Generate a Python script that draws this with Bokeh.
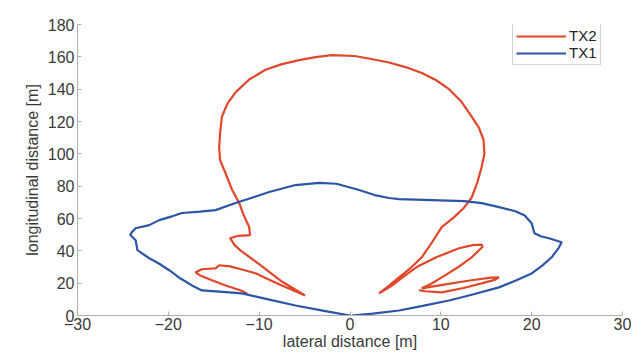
from bokeh.plotting import figure
from bokeh.models import Range1d, Legend, LegendItem, FixedTicker
from bokeh.embed import file_html
from bokeh.resources import INLINE

x_ticks = [-30, -20, -10, 0, 10, 20, 30]
y_ticks = [0, 20, 40, 60, 80, 100, 120, 140, 160, 180]

tx2_x = [-11.3, -12.0, -13.7, -15.2, -16.5, -17.0, -16.3, -14.8, -14.4, -13.2, -11.8, -10.4, -9.0, -7.5, -6.2, -4.95,
         -7.5, -10.0, -12.0, -12.7, -13.2, -12.3, -11.0, -11.1, -11.7, -12.2, -13.0, -13.7, -14.3, -14.4, -14.3, -14.1,
         -13.5, -12.6, -11.1, -9.3, -7.5, -5.6, -3.8, -2.0, 0.5, 2.5, 4.3, 6.2, 7.9, 9.5, 10.9, 12.3, 13.4, 14.2, 14.7,
         14.8, 14.5, 14.0, 13.4, 12.6, 11.5, 10.1, 9.0, 7.9, 6.7, 5.4, 4.3, 3.2,
         4.5, 6.0, 7.5, 9.5, 12.0, 13.5, 14.5, 14.6, 13.4, 11.8, 10.1, 8.9, 7.9,
         10.0, 13.0, 15.5, 16.4, 16.0, 14.5, 12.5, 10.1, 8.3, 7.6]
tx2_y = [13.5, 15.5, 18.6, 21.8, 24.8, 26.7, 28.6, 29.2, 31.1, 30.4, 28.3, 26.1, 22.4, 18.6, 15.4, 12.4,
         21.0, 31.8, 40.0, 43.5, 47.8, 49.3, 49.7, 54.7, 62.0, 69.6, 78.0, 88.0, 96.0, 104.0, 113.0, 123.0,
         131.0, 138.0, 146.0, 152.0, 155.5, 158.0, 159.8, 161.0, 160.5, 158.5, 156.5, 153.5, 150.0, 145.5, 140.0, 132.0,
         123.0, 116.0, 108.7, 100.0, 92.0, 82.0, 73.0, 67.0, 61.0, 54.7, 45.0, 36.0, 29.5, 23.6, 18.5, 13.7,
         18.0, 24.5, 30.5, 36.0, 41.6, 43.5, 43.8, 42.5, 36.0, 29.5, 23.6, 19.5, 16.8,
         18.8, 21.5, 23.4, 23.6, 22.2, 19.9, 17.0, 14.3, 15.0, 15.6]

tx1_x = [0.0, -3.0, -6.0, -9.0, -11.9, -14.0, -16.3, -17.4, -18.7, -19.9, -21.0, -22.1, -23.4, -23.6, -24.2, -24.0,
         -23.6, -22.1, -21.0, -19.5, -18.5, -16.5, -14.8, -12.6, -10.8, -8.9, -6.0, -3.4, -1.5, 1.0, 2.7, 4.3, 5.4,
         9.0, 12.6, 14.5, 16.4, 18.2, 19.2, 20.0, 20.3, 21.0, 21.9, 23.3, 23.0, 22.2, 21.2, 20.0, 18.2, 16.4, 13.5,
         10.9, 8.0, 5.4, 2.5, 0.2]
tx1_y = [0.0, 3.0, 6.2, 10.0, 13.7, 14.6, 15.5, 18.6, 23.0, 28.0, 32.0, 35.4, 40.4, 46.6, 50.0, 51.6,
         54.0, 55.9, 59.0, 61.5, 63.4, 64.2, 65.2, 69.6, 72.8, 76.4, 80.7, 82.0, 81.5, 77.6, 74.5, 72.7, 72.0,
         71.4, 70.8, 69.5, 67.0, 64.5, 62.0, 57.0, 50.9, 49.0, 47.8, 45.3, 42.0, 36.0, 31.0, 26.0, 21.5, 17.4, 13.0,
         9.3, 6.0, 3.1, 1.2, 0.0]

p = figure(width=632, height=352, output_backend="svg", toolbar_location=None,
           x_range=Range1d(-30, 30), y_range=Range1d(0, 180),
           min_border_left=77, min_border_right=10, min_border_top=24, min_border_bottom=37)
p.outline_line_color = None
p.grid.grid_line_color = None
p.background_fill_color = "white"

r2 = p.line(tx2_x, tx2_y, line_color="#e0472b", line_width=2.2)
r1 = p.line(tx1_x, tx1_y, line_color="#2d55a6", line_width=2.2)

for ax in (p.xaxis[0], p.yaxis[0]):
    ax.axis_line_color = "#b0b0b0"
    ax.major_tick_line_color = "#b0b0b0"
    ax.minor_tick_line_color = None
    ax.major_tick_in = 4
    ax.major_tick_out = 0
    ax.major_label_text_font = "Liberation Sans"
    ax.major_label_text_font_size = "16px"
    ax.major_label_text_color = "#3a3a3a"
    ax.axis_label_text_font = "Liberation Sans"
    ax.axis_label_text_font_size = "16px"
    ax.axis_label_text_font_style = "normal"
    ax.axis_label_text_color = "#3a3a3a"

p.xaxis[0].ticker = FixedTicker(ticks=x_ticks)
p.yaxis[0].ticker = FixedTicker(ticks=y_ticks)
p.xaxis[0].axis_label = "lateral distance [m]"
p.yaxis[0].axis_label = "longitudinal distance [m]"
p.xaxis[0].major_label_standoff = 2
p.xaxis[0].axis_label_standoff = 0
p.yaxis[0].major_label_standoff = 3
p.yaxis[0].axis_label_standoff = 4

legend = Legend(items=[LegendItem(label="TX2", renderers=[r2]), LegendItem(label="TX1", renderers=[r1])],
                location=(435, 250))
legend.label_text_font = "Liberation Sans"
legend.label_text_font_size = "15px"
legend.label_text_color = "#222222"
legend.glyph_width = 50
legend.glyph_height = 14
legend.label_height = 14
legend.label_standoff = 3
legend.spacing = 0
legend.padding = 3
legend.margin = 0
legend.border_line_color = "#aaaaaa"
legend.border_line_width = 1
p.add_layout(legend)

open("out.html", "w").write(file_html(p, INLINE))
